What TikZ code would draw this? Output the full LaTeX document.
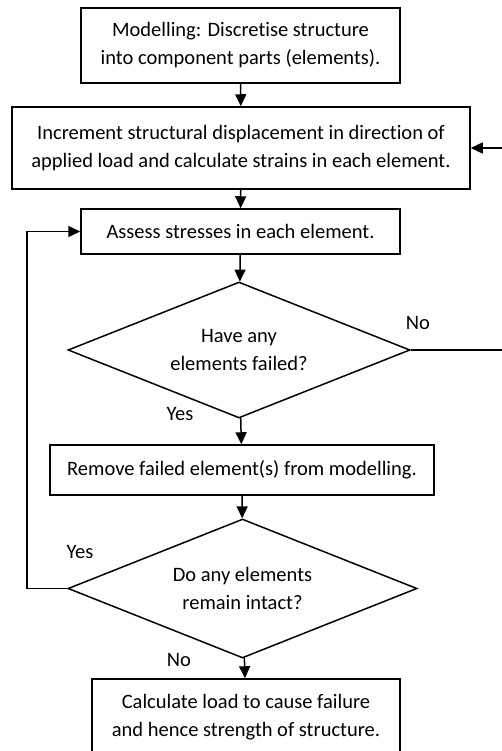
\documentclass[tikz,border=0pt]{standalone}
\usepackage{fontspec}
\setmainfont[Ligatures=NoCommon]{Carlito}
\usetikzlibrary{arrows.meta,positioning,calc,shapes.geometric}

\tikzset{
  stepbox/.style={draw, line width=1.5pt, align=center, inner sep=0pt,
    font=\fontsize{20.5}{28}\selectfont},
  choice/.style={draw, diamond, aspect=2.5, line width=1.5pt, align=center, inner sep=0pt,
    font=\fontsize{20.5}{28}\selectfont},
  flow/.style={line width=1.5pt, -{Triangle[length=12pt,width=11pt]}},
  answer/.style={font=\fontsize{20.5}{24}\selectfont}
}

\begin{document}
\begin{tikzpicture}[x=1pt,y=-1pt]
	\useasboundingbox (0,0) rectangle (501,751);
	
	% process boxes
	\node[stepbox, minimum width=319pt, minimum height=75pt] (model) at (240.5,45.5)
		{Modelling: Discretise structure\\into component parts (elements).};
	\node[stepbox, minimum width=458pt, minimum height=82pt] (incr) at (241,148)
		{Increment structural displacement in direction of\\applied load and calculate strains in each element.};
	\node[stepbox, minimum width=319pt, minimum height=45pt] (assess) at (240.5,231.5)
		{Assess stresses in each element.};
	\node[stepbox, minimum width=384pt, minimum height=50pt] (remove) at (242,470)
		{Remove failed element(s) from modelling.};
	\node[stepbox, minimum width=308pt, minimum height=76pt] (calc) at (246,717)
		{Calculate load to cause failure\\and hence strength of structure.};
	
	% decisions
	\node[choice, minimum width=342pt, minimum height=136pt] (failed) at (239,350)
		{Have any\\elements failed?};
	\node[choice, minimum width=349pt, minimum height=139pt] (intact) at (242.5,588.5)
		{Do any elements\\remain intact?};
	
	% main line
	\draw[flow] (model) -- (incr);
	\draw[flow] (incr) -- (assess);
	\draw[flow] (assess) -- (failed);
	\draw[flow] (failed) -- (remove);
	\draw[flow] (remove) -- (intact);
	\draw[flow] (intact) -- (calc);
	
	% loops
	\coordinate (rturn) at (512,350);
	\coordinate (lturn) at (27,588.5);
	\draw[flow] (failed.east) -- (rturn) |- (incr.east);
	\draw[flow] (intact.west) -- (lturn) |- (assess.west);
	
	\node[answer] (nofail) at (418,323) {No};
	\node[answer] (yesfail) at (180,414) {Yes};
	\node[answer] (yesleft) at (80,552) {Yes};
	\node[answer] (noleft) at (179,660) {No};
\end{tikzpicture}
\end{document}
